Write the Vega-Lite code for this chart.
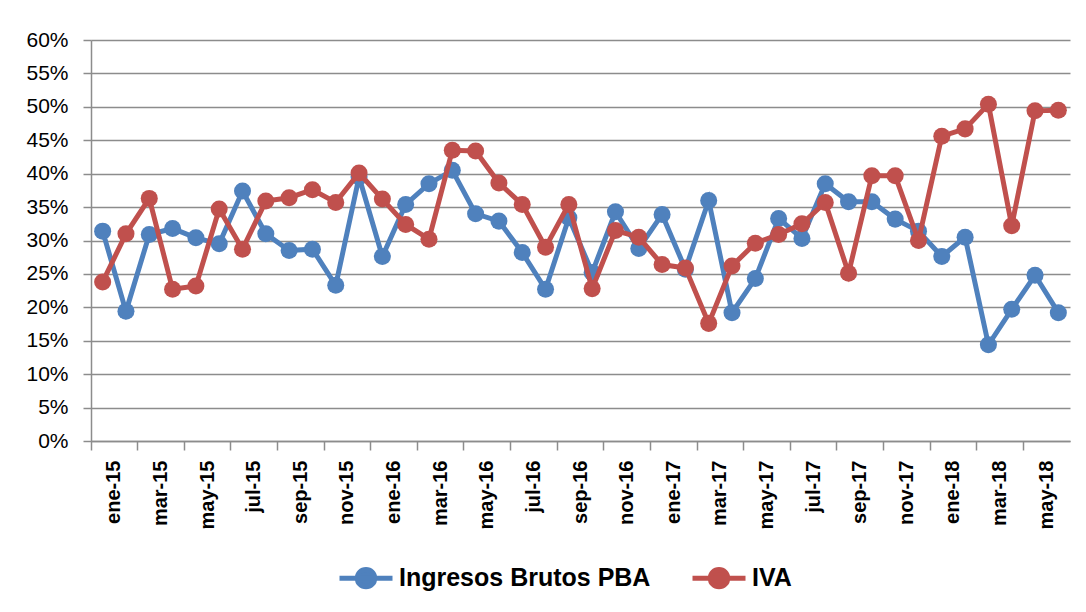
{
  "$schema": "https://vega.github.io/schema/vega-lite/v6.json",
  "autosize": {"type": "none"},
  "padding": {"left": 91, "top": 40, "right": 16, "bottom": 171},
  "width": 979,
  "height": 401,
  "background": "white",
  "config": {
    "view": {"stroke": null},
    "font": "Liberation Sans",
    "axis": {"labelFontSize": 21}
  },
  "data": {
    "values": [
      {"mes": "ene-15", "serie": "Ingresos Brutos PBA", "valor": 0.314},
      {"mes": "feb-15", "serie": "Ingresos Brutos PBA", "valor": 0.194},
      {"mes": "mar-15", "serie": "Ingresos Brutos PBA", "valor": 0.309},
      {"mes": "abr-15", "serie": "Ingresos Brutos PBA", "valor": 0.318},
      {"mes": "may-15", "serie": "Ingresos Brutos PBA", "valor": 0.304},
      {"mes": "jun-15", "serie": "Ingresos Brutos PBA", "valor": 0.295},
      {"mes": "jul-15", "serie": "Ingresos Brutos PBA", "valor": 0.374},
      {"mes": "ago-15", "serie": "Ingresos Brutos PBA", "valor": 0.310},
      {"mes": "sep-15", "serie": "Ingresos Brutos PBA", "valor": 0.285},
      {"mes": "oct-15", "serie": "Ingresos Brutos PBA", "valor": 0.287},
      {"mes": "nov-15", "serie": "Ingresos Brutos PBA", "valor": 0.233},
      {"mes": "dic-15", "serie": "Ingresos Brutos PBA", "valor": 0.395},
      {"mes": "ene-16", "serie": "Ingresos Brutos PBA", "valor": 0.276},
      {"mes": "feb-16", "serie": "Ingresos Brutos PBA", "valor": 0.354},
      {"mes": "mar-16", "serie": "Ingresos Brutos PBA", "valor": 0.385},
      {"mes": "abr-16", "serie": "Ingresos Brutos PBA", "valor": 0.405},
      {"mes": "may-16", "serie": "Ingresos Brutos PBA", "valor": 0.340},
      {"mes": "jun-16", "serie": "Ingresos Brutos PBA", "valor": 0.329},
      {"mes": "jul-16", "serie": "Ingresos Brutos PBA", "valor": 0.282},
      {"mes": "ago-16", "serie": "Ingresos Brutos PBA", "valor": 0.227},
      {"mes": "sep-16", "serie": "Ingresos Brutos PBA", "valor": 0.334},
      {"mes": "oct-16", "serie": "Ingresos Brutos PBA", "valor": 0.252},
      {"mes": "nov-16", "serie": "Ingresos Brutos PBA", "valor": 0.343},
      {"mes": "dic-16", "serie": "Ingresos Brutos PBA", "valor": 0.288},
      {"mes": "ene-17", "serie": "Ingresos Brutos PBA", "valor": 0.339},
      {"mes": "feb-17", "serie": "Ingresos Brutos PBA", "valor": 0.257},
      {"mes": "mar-17", "serie": "Ingresos Brutos PBA", "valor": 0.360},
      {"mes": "abr-17", "serie": "Ingresos Brutos PBA", "valor": 0.192},
      {"mes": "may-17", "serie": "Ingresos Brutos PBA", "valor": 0.243},
      {"mes": "jun-17", "serie": "Ingresos Brutos PBA", "valor": 0.333},
      {"mes": "jul-17", "serie": "Ingresos Brutos PBA", "valor": 0.303},
      {"mes": "ago-17", "serie": "Ingresos Brutos PBA", "valor": 0.385},
      {"mes": "sep-17", "serie": "Ingresos Brutos PBA", "valor": 0.358},
      {"mes": "oct-17", "serie": "Ingresos Brutos PBA", "valor": 0.358},
      {"mes": "nov-17", "serie": "Ingresos Brutos PBA", "valor": 0.332},
      {"mes": "dic-17", "serie": "Ingresos Brutos PBA", "valor": 0.314},
      {"mes": "ene-18", "serie": "Ingresos Brutos PBA", "valor": 0.276},
      {"mes": "feb-18", "serie": "Ingresos Brutos PBA", "valor": 0.305},
      {"mes": "mar-18", "serie": "Ingresos Brutos PBA", "valor": 0.144},
      {"mes": "abr-18", "serie": "Ingresos Brutos PBA", "valor": 0.197},
      {"mes": "may-18", "serie": "Ingresos Brutos PBA", "valor": 0.248},
      {"mes": "jun-18", "serie": "Ingresos Brutos PBA", "valor": 0.192},
      {"mes": "ene-15", "serie": "IVA", "valor": 0.238},
      {"mes": "feb-15", "serie": "IVA", "valor": 0.310},
      {"mes": "mar-15", "serie": "IVA", "valor": 0.363},
      {"mes": "abr-15", "serie": "IVA", "valor": 0.227},
      {"mes": "may-15", "serie": "IVA", "valor": 0.232},
      {"mes": "jun-15", "serie": "IVA", "valor": 0.347},
      {"mes": "jul-15", "serie": "IVA", "valor": 0.287},
      {"mes": "ago-15", "serie": "IVA", "valor": 0.359},
      {"mes": "sep-15", "serie": "IVA", "valor": 0.364},
      {"mes": "oct-15", "serie": "IVA", "valor": 0.376},
      {"mes": "nov-15", "serie": "IVA", "valor": 0.357},
      {"mes": "dic-15", "serie": "IVA", "valor": 0.401},
      {"mes": "ene-16", "serie": "IVA", "valor": 0.362},
      {"mes": "feb-16", "serie": "IVA", "valor": 0.324},
      {"mes": "mar-16", "serie": "IVA", "valor": 0.302},
      {"mes": "abr-16", "serie": "IVA", "valor": 0.435},
      {"mes": "may-16", "serie": "IVA", "valor": 0.434},
      {"mes": "jun-16", "serie": "IVA", "valor": 0.386},
      {"mes": "jul-16", "serie": "IVA", "valor": 0.354},
      {"mes": "ago-16", "serie": "IVA", "valor": 0.290},
      {"mes": "sep-16", "serie": "IVA", "valor": 0.354},
      {"mes": "oct-16", "serie": "IVA", "valor": 0.228},
      {"mes": "nov-16", "serie": "IVA", "valor": 0.315},
      {"mes": "dic-16", "serie": "IVA", "valor": 0.305},
      {"mes": "ene-17", "serie": "IVA", "valor": 0.264},
      {"mes": "feb-17", "serie": "IVA", "valor": 0.259},
      {"mes": "mar-17", "serie": "IVA", "valor": 0.176},
      {"mes": "abr-17", "serie": "IVA", "valor": 0.262},
      {"mes": "may-17", "serie": "IVA", "valor": 0.296},
      {"mes": "jun-17", "serie": "IVA", "valor": 0.309},
      {"mes": "jul-17", "serie": "IVA", "valor": 0.325},
      {"mes": "ago-17", "serie": "IVA", "valor": 0.357},
      {"mes": "sep-17", "serie": "IVA", "valor": 0.251},
      {"mes": "oct-17", "serie": "IVA", "valor": 0.397},
      {"mes": "nov-17", "serie": "IVA", "valor": 0.397},
      {"mes": "dic-17", "serie": "IVA", "valor": 0.300},
      {"mes": "ene-18", "serie": "IVA", "valor": 0.456},
      {"mes": "feb-18", "serie": "IVA", "valor": 0.467},
      {"mes": "mar-18", "serie": "IVA", "valor": 0.504},
      {"mes": "abr-18", "serie": "IVA", "valor": 0.322},
      {"mes": "may-18", "serie": "IVA", "valor": 0.494},
      {"mes": "jun-18", "serie": "IVA", "valor": 0.495}
    ]
  },
  "encoding": {
    "x": {
      "field": "mes",
      "type": "nominal",
      "bandPosition": 0.5,
      "scale": {
        "type": "band",
        "paddingInner": 0,
        "paddingOuter": 0,
        "domain": ["ene-15","feb-15","mar-15","abr-15","may-15","jun-15","jul-15","ago-15","sep-15","oct-15","nov-15","dic-15",
                   "ene-16","feb-16","mar-16","abr-16","may-16","jun-16","jul-16","ago-16","sep-16","oct-16","nov-16","dic-16",
                   "ene-17","feb-17","mar-17","abr-17","may-17","jun-17","jul-17","ago-17","sep-17","oct-17","nov-17","dic-17",
                   "ene-18","feb-18","mar-18","abr-18","may-18","jun-18"]
      },
      "axis": {
        "title": null,
        "values": ["ene-15","mar-15","may-15","jul-15","sep-15","nov-15","ene-16","mar-16","may-16","jul-16","sep-16","nov-16",
                   "ene-17","mar-17","may-17","jul-17","sep-17","nov-17","ene-18","mar-18","may-18"],
        "bandPosition": 0,
        "labelOffset": 11.66,
        "labelAngle": -90,
        "labelAlign": "right",
        "labelBaseline": "middle",
        "labelFont": "Liberation Sans",
        "labelFontWeight": "bold",
        "labelFontSize": 20,
        "labelColor": "black",
        "labelPadding": 10,
        "labelLimit": 200,
        "tickSize": 9,
        "tickColor": "#8c8c8c",
        "tickWidth": 1.5,
        "domainColor": "#8c8c8c",
        "domainWidth": 1.5,
        "grid": false
      }
    },
    "y": {
      "field": "valor",
      "type": "quantitative",
      "scale": {"domain": [0, 0.6], "nice": false, "zero": true},
      "axis": {
        "title": null,
        "values": [0, 0.05, 0.1, 0.15, 0.2, 0.25, 0.3, 0.35, 0.4, 0.45, 0.5, 0.55, 0.6],
        "format": ".0%",
        "labelFont": "Liberation Sans",
        "labelFontSize": 21,
        "labelColor": "black",
        "labelPadding": 15,
        "tickSize": 8,
        "tickColor": "#8c8c8c",
        "tickWidth": 1.5,
        "domainColor": "#8c8c8c",
        "domainWidth": 1.5,
        "grid": true,
        "gridColor": "#8c8c8c",
        "gridWidth": 1.5
      }
    },
    "color": {
      "field": "serie",
      "type": "nominal",
      "scale": {"domain": ["Ingresos Brutos PBA", "IVA"], "range": ["#4F81BD", "#C0504D"]},
      "legend": {
        "title": null,
        "orient": "none",
        "direction": "horizontal",
        "legendX": 246,
        "legendY": 509,
        "padding": 0,
        "symbolType": "M-1,0L1,0M-0.33,0A0.33,0.33,0,1,1,0.33,0A0.33,0.33,0,1,1,-0.33,0Z",
        "symbolSize": 2809,
        "symbolStrokeWidth": 5,
        "labelFont": "Liberation Sans",
        "labelFontWeight": "bold",
        "labelFontSize": 25,
        "labelColor": "black",
        "labelOffset": 4,
        "columnPadding": 31,
        "labelLimit": 400,
        "encode": {
          "symbols": {
            "update": {
              "fill": {"field": "value", "scale": "color"},
              "stroke": {"field": "value", "scale": "color"},
              "opacity": {"value": 1},
              "fillOpacity": {"value": 1}
            }
          }
        }
      }
    }
  },
  "layer": [
    {
      "transform": [{"filter": "datum.serie === 'Ingresos Brutos PBA'"}],
      "mark": {"type": "line", "strokeWidth": 5}
    },
    {
      "transform": [{"filter": "datum.serie === 'Ingresos Brutos PBA'"}],
      "mark": {"type": "point", "filled": true, "size": 290, "opacity": 1}
    },
    {
      "transform": [{"filter": "datum.serie === 'IVA'"}],
      "mark": {"type": "line", "strokeWidth": 5}
    },
    {
      "transform": [{"filter": "datum.serie === 'IVA'"}],
      "mark": {"type": "point", "filled": true, "size": 290, "opacity": 1}
    }
  ]
}
